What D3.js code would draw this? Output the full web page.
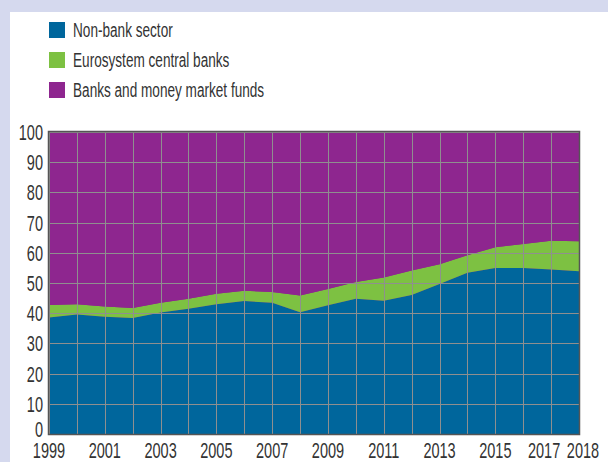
<!DOCTYPE html>
<html>
<head>
<meta charset="utf-8">
<script src="https://cdn.jsdelivr.net/npm/d3@7"></script>
<style>
  body { margin: 0; background: #d5d9ee; }
  svg { display: block; }
  text { font-family: "Liberation Sans", Arimo, sans-serif; fill: #333; }
</style>
</head>
<body>
<svg width="608" height="462"></svg>
<script>
// data (shares in %)
var years = [1999,2000,2001,2002,2003,2004,2005,2006,2007,2008,2009,2010,2011,2012,2013,2014,2015,2016,2017,2018];
var nonBank = [38.6,39.6,38.8,38.4,40.2,41.5,43.0,44.0,43.5,40.3,42.6,44.8,44.1,46.0,49.7,53.4,55.0,55.0,54.5,53.9];
var eurosystem = [4.1,3.4,3.4,3.3,3.3,3.3,3.4,3.4,3.5,5.6,5.4,5.5,7.7,8.1,6.5,5.8,6.8,7.9,9.5,9.9];
var banks = [57.3,57.0,57.8,58.3,56.5,55.2,53.6,52.6,53.0,54.1,52.0,49.7,48.2,45.9,43.8,40.8,38.2,37.1,36.0,36.2];
var seriesNames = ["Non-bank sector", "Eurosystem central banks", "Banks and money market funds"];
var seriesKeys = ["nonBank", "eurosystem", "banks"];
var colors = ["#00669c", "#7dc142", "#8e268f"];
var xTickLabels = [1999,2001,2003,2005,2007,2009,2011,2013,2015,2017,2018];
var yTicks = [0,10,20,30,40,50,60,70,80,90,100];

// the original uses a condensed face, so squeeze a regular one
var squeezeTicks = 0.66;
var squeezeLegend = 0.68;

var svg = d3.select("svg");

// white panel
svg.append("rect")
  .attr("x", 10).attr("y", 12)
  .attr("width", 598).attr("height", 450)
  .attr("fill", "#fff");

var x = d3.scaleLinear().domain([1999, 2018]).range([49, 579]);
var y = d3.scaleLinear().domain([0, 100]).range([434, 132]);

var rows = years.map(function(yr, i) {
  return { year: yr, nonBank: nonBank[i], eurosystem: eurosystem[i], banks: banks[i] };
});

var layers = d3.stack().keys(seriesKeys)(rows);

var area = d3.area()
  .x(function(d) { return x(d.data.year); })
  .y0(function(d) { return y(d[0]); })
  .y1(function(d) { return y(Math.min(d[1], 100)); });

// purple fills the rest of the box up to 100
svg.append("rect")
  .attr("x", x(1999)).attr("y", y(100))
  .attr("width", x(2018) - x(1999)).attr("height", y(0) - y(100))
  .attr("fill", colors[2]);

svg.selectAll(".layer")
  .data(layers)
  .enter().append("path")
  .attr("class", "layer")
  .attr("d", area)
  .attr("fill", function(d, i) { return colors[i]; });

// grid
var grid = svg.append("g").attr("stroke", "#8f8f8f").attr("stroke-width", 1);
years.forEach(function(yr) {
  grid.append("line")
    .attr("x1", Math.round(x(yr)) + 0.5).attr("x2", Math.round(x(yr)) + 0.5)
    .attr("y1", y(100)).attr("y2", y(0));
});
yTicks.forEach(function(t) {
  grid.append("line")
    .attr("x1", x(1999)).attr("x2", x(2018))
    .attr("y1", Math.round(y(t)) + 0.5).attr("y2", Math.round(y(t)) + 0.5);
});

// frame
svg.append("rect")
  .attr("x", x(1999) - 0.5).attr("y", y(100) - 0.5)
  .attr("width", x(2018) - x(1999) + 1).attr("height", y(0) - y(100) + 1)
  .attr("fill", "none").attr("stroke", "#555").attr("stroke-width", 1.5);

// y axis labels (the 0 sits a little higher to clear the year labels)
svg.selectAll(".ylab")
  .data(yTicks)
  .enter().append("text")
  .attr("class", "ylab")
  .attr("transform", function(d) {
    return "translate(43," + (y(d) - (d === 0 ? 5 : 0)) + ") scale(" + squeezeTicks + ",1)";
  })
  .attr("dy", "0.36em")
  .attr("text-anchor", "end")
  .style("font-size", "22px")
  .text(function(d) { return d; });

// x axis labels (2017/2018 nudged apart like the original)
svg.selectAll(".xlab")
  .data(xTickLabels)
  .enter().append("text")
  .attr("class", "xlab")
  .attr("transform", function(d) {
    var nx = x(d) + (d === 2017 ? -7 : d === 2018 ? 4 : 0);
    return "translate(" + nx + ",458) scale(" + squeezeTicks + ",1)";
  })
  .attr("text-anchor", "middle")
  .style("font-size", "22px")
  .text(function(d) { return d; });

// legend
var legend = svg.selectAll(".legend")
  .data(seriesNames)
  .enter().append("g")
  .attr("class", "legend")
  .attr("transform", function(d, i) { return "translate(49," + (22 + i * 30) + ")"; });

legend.append("rect")
  .attr("width", 16).attr("height", 16)
  .attr("fill", function(d, i) { return colors[i]; });

legend.append("text")
  .attr("transform", "translate(24,8) scale(" + squeezeLegend + ",1)")
  .attr("dy", "0.36em")
  .style("font-size", "20px")
  .text(function(d) { return d; });
</script>
</body>
</html>
